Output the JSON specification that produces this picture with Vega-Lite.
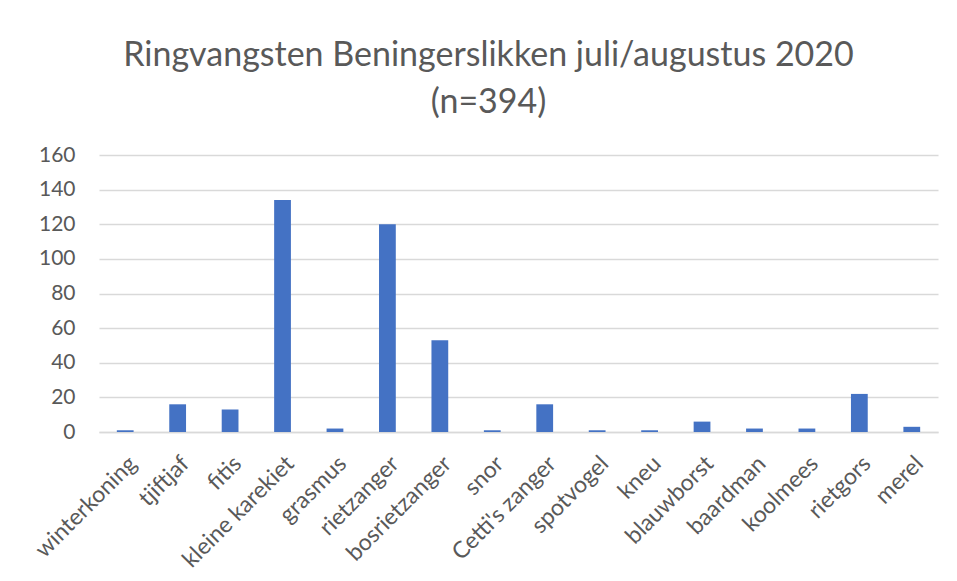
{
  "$schema": "https://vega.github.io/schema/vega-lite/v6.json",
  "autosize": "none",
  "width": 839,
  "height": 277,
  "padding": {"left": 99, "top": 155, "right": 19, "bottom": 149},
  "background": "white",
  "config": {"view": {"stroke": null}},
  "title": {
    "text": ["Ringvangsten Beningerslikken juli/augustus 2020", "(n=394)"],
    "font": "Lato",
    "fontSize": 34,
    "fontWeight": "normal",
    "color": "#595959",
    "lineHeight": 47,
    "anchor": "middle",
    "dx": -30,
    "offset": 24
  },
  "data": {
    "values": [
      {"soort": "winterkoning", "aantal": 1},
      {"soort": "tjiftjaf", "aantal": 16},
      {"soort": "fitis", "aantal": 13},
      {"soort": "kleine karekiet", "aantal": 134},
      {"soort": "grasmus", "aantal": 2},
      {"soort": "rietzanger", "aantal": 120},
      {"soort": "bosrietzanger", "aantal": 53},
      {"soort": "snor", "aantal": 1},
      {"soort": "Cetti's zanger", "aantal": 16},
      {"soort": "spotvogel", "aantal": 1},
      {"soort": "kneu", "aantal": 1},
      {"soort": "blauwborst", "aantal": 6},
      {"soort": "baardman", "aantal": 2},
      {"soort": "koolmees", "aantal": 2},
      {"soort": "rietgors", "aantal": 22},
      {"soort": "merel", "aantal": 3}
    ]
  },
  "mark": {"type": "bar", "color": "#4472C4"},
  "encoding": {
    "x": {
      "field": "soort",
      "type": "nominal",
      "sort": null,
      "scale": {"paddingInner": 0.68, "paddingOuter": 0.34},
      "axis": {
        "title": null,
        "labelAngle": -45,
        "labelFont": "Lato",
        "labelFontSize": 23,
        "labelColor": "#595959",
        "labelPadding": 20,
        "ticks": false,
        "domainColor": "#d9d9d9",
        "domainWidth": 1.3,
        "labelLimit": 300
      }
    },
    "y": {
      "field": "aantal",
      "type": "quantitative",
      "scale": {"domain": [0, 160], "nice": false},
      "axis": {
        "title": null,
        "values": [0, 20, 40, 60, 80, 100, 120, 140, 160],
        "labelFont": "Lato",
        "labelFontSize": 21,
        "labelColor": "#595959",
        "labelPadding": 24,
        "ticks": false,
        "domain": false,
        "gridColor": "#d9d9d9",
        "gridWidth": 1.3
      }
    }
  }
}
